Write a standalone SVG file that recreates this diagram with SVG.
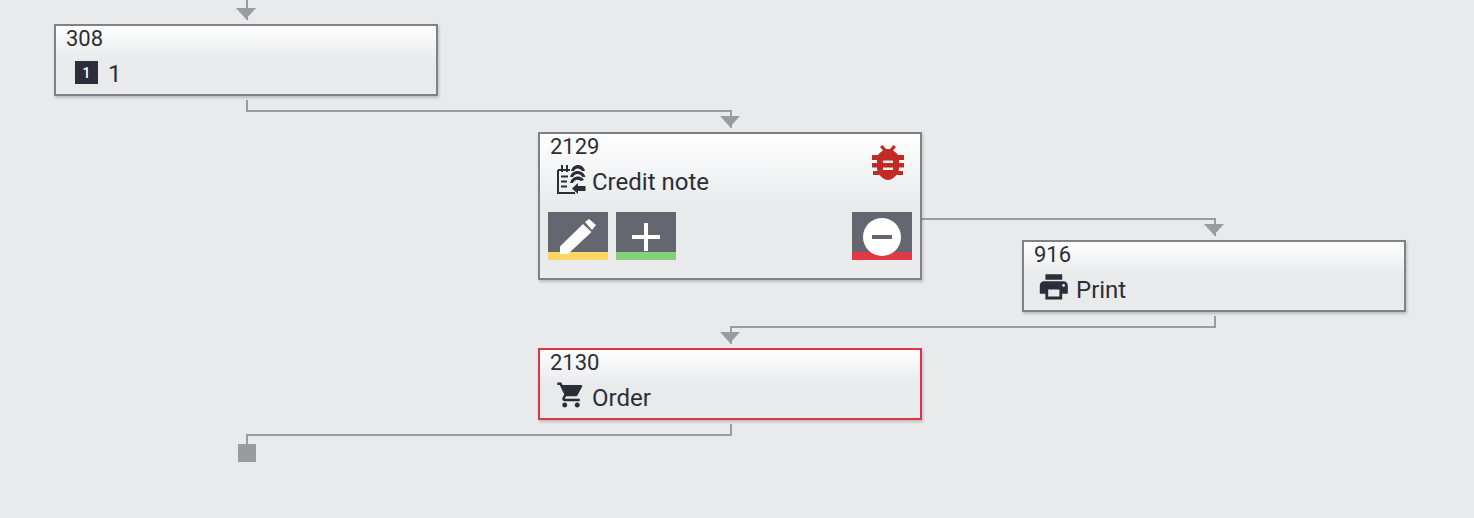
<svg xmlns="http://www.w3.org/2000/svg" width="1474" height="518" viewBox="0 0 1474 518">
<style>
text{font-family:Roboto,"Liberation Sans",sans-serif;fill:#2b2e38}
.id{font-size:22px}
.lb{font-size:24px}
.box{fill:url(#g);stroke:#808186;stroke-width:2;filter:url(#s)}
.c{fill:none;stroke:#9a9ba0;stroke-width:2}
.a{fill:#9a9ba0}
.btn{fill:#646670}
.w{fill:#fff}
.ic{fill:#2b2e38}
.icl{fill:none;stroke:#2b2e38;stroke-width:2}
</style>
<defs>
<linearGradient id="g" x1="0" y1="0" x2="0" y2="1">
<stop offset="0" stop-color="#fff"/><stop offset="0.5" stop-color="#e9eaec"/><stop offset="1" stop-color="#e9eaec"/>
</linearGradient>
<filter id="s" x="-5%" y="-10%" width="110%" height="125%">
<feDropShadow dx="1" dy="2" stdDeviation="1.5" flood-color="#000" flood-opacity="0.2"/>
</filter>
</defs>
<rect width="1474" height="518" fill="#e9eaec"/>
<g id="connectors">
<path class="c" d="M247 0V20"/><path class="a" d="M236 8H256L246 19Z"/>
<path class="c" d="M247 100V111H731V128"/><path class="a" d="M720 116H740L730 127Z"/>
<path class="c" d="M922 219H1215V236"/><path class="a" d="M1204 224H1224L1214 235Z"/>
<path class="c" d="M1215 316V327H731V344"/><path class="a" d="M720 332H740L730 343Z"/>
<path class="c" d="M731 424V435H247V445"/><rect class="a" x="238" y="444" width="18" height="18"/>
</g>
<g id="node-308">
<rect class="box" x="55" y="25" width="382" height="70"/>
<text class="id" x="66" y="46">308</text>
<rect x="75" y="61" width="23" height="23" fill="#2b2e38"/>
<text x="86.500" y="78" text-anchor="middle" font-size="14" font-weight="500" style="fill:#fff">1</text>
<text class="lb" x="108" y="82">1</text>
</g>
<g id="node-2129">
<rect class="box" x="539" y="133" width="382" height="146"/>
<text class="id" x="550" y="154">2129</text>
<g id="icon-credit-note">
<path class="icl" d="M558 170H570M558 170V193H575"/>
<path class="icl" d="M562 165V172M567 165V172"/>
<path class="icl" d="M561 176.500H568M561 181.500H567M561 186.500H567"/>
<path class="ic" d="M571 171C573 163 583 163 585 171L582 171C580 167.500 575 167.500 574 171Z"/>
<path class="ic" d="M570 177C572 169 583 169 585.500 177L582.500 177C580 173 575 173 573 177Z"/>
<path class="ic" d="M570 183C572 175 582 175 584 180L581 181C578 179 575 179 573 183Z"/>
<path class="ic" d="M572 188.500L578 183V186H585.500V191H578V194Z"/>
</g>
<text class="lb" x="592" y="190">Credit note</text>
<g id="icon-bug" fill="#c22a26">
<path d="M880 147L882.500 145L886 149H890L893.500 145L896 147L893 150.500C895.500 152 897 153.500 898 155H878C879 153.500 880.500 152 883 150.500Z"/>
<path d="M877 155H899V168C899 174 893 180 888 180C883 180 877 174 877 168Z"/>
<path d="M872 155H878V160H872ZM898 155H904V160H898ZM872 163H878V167.500H872ZM898 163H904V167.500H898ZM873 171H879V175H873ZM897 171H903V175H897Z"/>
<path d="M883 160.500H893V163H883ZM883 167.500H893V170H883Z" fill="#e9eaec"/>
</g>
<g id="btn-edit">
<rect class="btn" x="548" y="212" width="60" height="40"/>
<rect x="548" y="252" width="60" height="8" fill="#fdd663"/>
<path class="w" d="M560 254V246.500L583 224L591.500 232L568 254Z"/>
<path class="w" d="M585 222L589 219L596 225L592 230Z"/>
</g>
<g id="btn-add">
<rect class="btn" x="616" y="212" width="60" height="40"/>
<rect x="616" y="252" width="60" height="8" fill="#85d07a"/>
<path class="w" d="M644 223H648V235H660V239H648V251H644V239H632V235H644Z"/>
</g>
<g id="btn-remove">
<rect class="btn" x="852" y="212" width="60" height="40"/>
<rect x="852" y="252" width="60" height="8" fill="#e23744"/>
<circle class="w" cx="882" cy="237" r="19"/>
<rect class="btn" x="872" y="235" width="20" height="4"/>
</g>
</g>
<g id="node-916">
<rect class="box" x="1023" y="241" width="382" height="70"/>
<text class="id" x="1034" y="262">916</text>
<path class="ic" transform="translate(1037 270) scale(1.4)" d="M19 8H5c-1.660 0-3 1.340-3 3v6h4v4h12v-4h4v-6c0-1.660-1.340-3-3-3zm-3 11H8v-5h8v5zm3-7c-.55 0-1-.45-1-1s.45-1 1-1 1 .45 1 1-.45 1-1 1zm-1-9H6v4h12V3z"/>
<text class="lb" x="1076" y="298">Print</text>
</g>
<g id="node-2130">
<rect class="box" x="539" y="349" width="382" height="70" style="stroke:#dc3545"/>
<text class="id" x="550" y="370">2130</text>
<path class="ic" transform="translate(556 380) scale(1.25)" d="M7 18c-1.100 0-1.990.9-1.990 2S5.900 22 7 22s2-.9 2-2-.9-2-2-2zM1 2v2h2l3.600 7.590-1.350 2.450c-.16.28-.25.61-.25.96 0 1.100.9 2 2 2h12v-2H7.420c-.14 0-.25-.11-.25-.25l.03-.12.9-1.630h7.450c.75 0 1.410-.41 1.750-1.030l3.580-6.490c.08-.14.12-.31.12-.48 0-.55-.45-1-1-1H5.210l-.94-2H1zm16 16c-1.100 0-1.990.9-1.990 2s.89 2 1.990 2 2-.9 2-2-.9-2-2-2z"/>
<text class="lb" x="592" y="406">Order</text>
</g>
</svg>
